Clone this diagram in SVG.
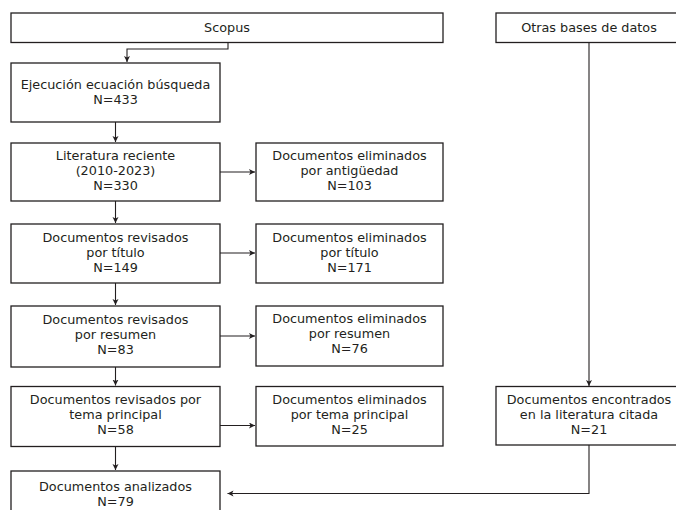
<svg xmlns="http://www.w3.org/2000/svg" width="676" height="510" viewBox="0 0 676 510">
<style>
.box{fill:#fff;stroke:#231f20;stroke-width:1.3}
.t{font-family:"DejaVu Sans",sans-serif;font-size:12.8px;fill:#231f20;text-anchor:middle}
.c{fill:none;stroke:#231f20;stroke-width:1.1}
</style>
<defs>
<marker id="ah" markerUnits="userSpaceOnUse" markerWidth="8" markerHeight="8" refX="6" refY="3" orient="auto">
<path d="M0,0 L6,3 L0,6 L1.5,3 Z" fill="#231f20"/>
</marker>
</defs>
<rect width="676" height="510" fill="#fff"/>
<g id="connectors">
<path class="c" d="M228,42.5 V49 H127 V62" marker-end="url(#ah)"/>
<path class="c" d="M115.5,122 V142" marker-end="url(#ah)"/>
<path class="c" d="M115.5,201 V223" marker-end="url(#ah)"/>
<path class="c" d="M115.5,283 V305" marker-end="url(#ah)"/>
<path class="c" d="M115.5,367 V385.5" marker-end="url(#ah)"/>
<path class="c" d="M115.5,446.5 V470" marker-end="url(#ah)"/>
<path class="c" d="M220,172 H255" marker-end="url(#ah)"/>
<path class="c" d="M220,253 H255" marker-end="url(#ah)"/>
<path class="c" d="M220,336 H255" marker-end="url(#ah)"/>
<path class="c" d="M220,425.5 H255" marker-end="url(#ah)"/>
<path class="c" d="M589,42.5 V386" marker-end="url(#ah)"/>
<path class="c" d="M589,445 V493.5 H227.5" marker-end="url(#ah)"/>
</g>
<g id="scopus"><rect class="box" x="11" y="13" width="432" height="29.5"/><text class="t" x="227" y="31.5">Scopus</text></g>
<g id="otras"><rect class="box" x="496" y="13" width="186" height="29.5"/><text class="t" x="589" y="31.5">Otras bases de datos</text></g>
<g id="ejecucion"><rect class="box" x="11" y="63" width="209" height="59"/><text class="t" x="115.5" y="89">Ejecución ecuación búsqueda</text><text class="t" x="115.5" y="104">N=433</text></g>
<g id="literatura"><rect class="box" x="11" y="143" width="209" height="58"/><text class="t" x="115.5" y="160">Literatura reciente</text><text class="t" x="115.5" y="175">(2010-2023)</text><text class="t" x="115.5" y="190">N=330</text></g>
<g id="elim-antiguedad"><rect class="box" x="256" y="143" width="187" height="58"/><text class="t" x="349.5" y="160">Documentos eliminados</text><text class="t" x="349.5" y="175">por antigüedad</text><text class="t" x="349.5" y="190">N=103</text></g>
<g id="rev-titulo"><rect class="box" x="11" y="224" width="209" height="59"/><text class="t" x="115.5" y="242">Documentos revisados</text><text class="t" x="115.5" y="257">por título</text><text class="t" x="115.5" y="272">N=149</text></g>
<g id="elim-titulo"><rect class="box" x="256" y="224" width="187" height="59"/><text class="t" x="349.5" y="242">Documentos eliminados</text><text class="t" x="349.5" y="257">por título</text><text class="t" x="349.5" y="272">N=171</text></g>
<g id="rev-resumen"><rect class="box" x="11" y="306" width="209" height="61"/><text class="t" x="115.5" y="324">Documentos revisados</text><text class="t" x="115.5" y="339">por resumen</text><text class="t" x="115.5" y="354">N=83</text></g>
<g id="elim-resumen"><rect class="box" x="256" y="306" width="187" height="60"/><text class="t" x="349.5" y="323">Documentos eliminados</text><text class="t" x="349.5" y="338">por resumen</text><text class="t" x="349.5" y="353">N=76</text></g>
<g id="rev-tema"><rect class="box" x="11" y="386.5" width="209" height="60"/><text class="t" x="115.5" y="404">Documentos revisados por</text><text class="t" x="115.5" y="419">tema principal</text><text class="t" x="115.5" y="434">N=58</text></g>
<g id="elim-tema"><rect class="box" x="256" y="386.5" width="187" height="59.5"/><text class="t" x="349.5" y="404">Documentos eliminados</text><text class="t" x="349.5" y="419">por tema principal</text><text class="t" x="349.5" y="434">N=25</text></g>
<g id="encontrados"><rect class="box" x="496" y="386.5" width="186" height="58.5"/><text class="t" x="589" y="404">Documentos encontrados</text><text class="t" x="589" y="419">en la literatura citada</text><text class="t" x="589" y="434">N=21</text></g>
<g id="analizados"><rect class="box" x="11" y="471" width="209" height="45"/><text class="t" x="115.5" y="491">Documentos analizados</text><text class="t" x="115.5" y="506">N=79</text></g>
</svg>
